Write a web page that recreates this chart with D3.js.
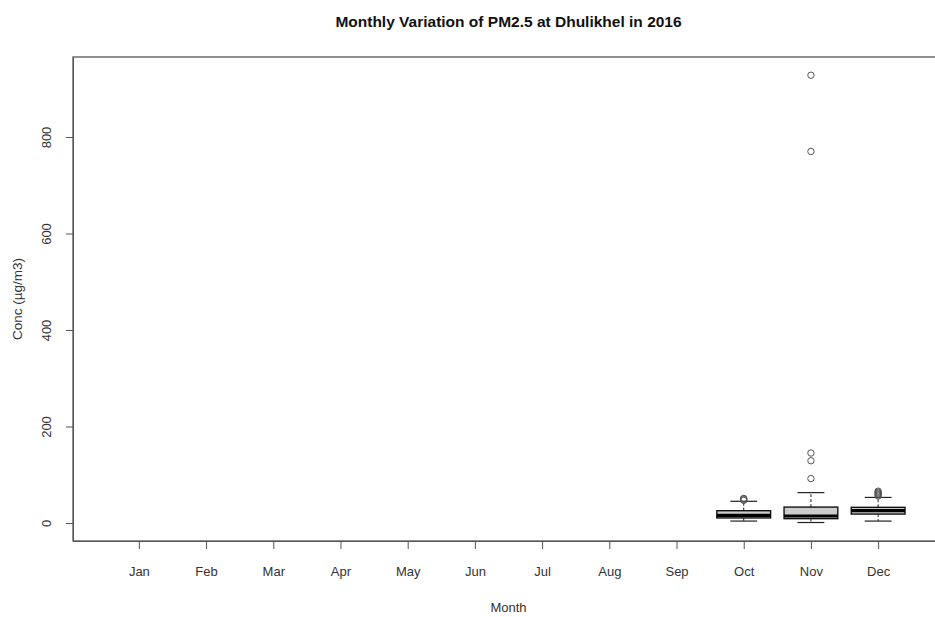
<!DOCTYPE html>
<html>
<head>
<meta charset="utf-8">
<script src="https://cdn.jsdelivr.net/npm/d3@7"></script>
<style>
  body { margin: 0; background: #fff; }
  svg { display: block; font-family: "Liberation Sans", Arial, sans-serif; }
</style>
</head>
<body>
<svg id="chart" width="935" height="617"></svg>
<script>
// ---- Data ----
const months = ["Jan","Feb","Mar","Apr","May","Jun","Jul","Aug","Sep","Oct","Nov","Dec"];
// Only Oct, Nov, Dec have data (null = no observations)
const whiskerLow  = [null,null,null,null,null,null,null,null,null, 4, 1, 4];
const q1          = [null,null,null,null,null,null,null,null,null, 10.5, 9, 18.5];
const medians     = [null,null,null,null,null,null,null,null,null, 16, 14.5, 25.5];
const q3          = [null,null,null,null,null,null,null,null,null, 25.5, 33, 32.5];
const whiskerHigh = [null,null,null,null,null,null,null,null,null, 45, 63, 53];
const outliers    = [[],[],[],[],[],[],[],[],[],
                     [47, 48, 50, 51],
                     [92, 129, 145, 770, 928],
                     [56, 58, 60, 62, 64, 66]];
const yTicks = [0, 200, 400, 600, 800];
const title = "Monthly Variation of PM2.5 at Dhulikhel in 2016";
const xLabel = "Month";
const yLabel = "Conc (\u00b5g/m3)";

// ---- Layout ----
const svg = d3.select("#chart");
const mLeft = 73, mRight = 944, mTop = 57, mBottom = 541;
const ink = "#333";

const x = d3.scaleLinear().domain([0.02, 12.98]).range([mLeft, mRight]);
const y = d3.scaleLinear().domain([-37.3, 965.8]).range([mBottom, mTop]);

// frame
svg.append("rect")
  .attr("x", mLeft).attr("y", mTop)
  .attr("width", mRight - mLeft).attr("height", mBottom - mTop)
  .attr("fill", "none").attr("stroke", "#555").attr("stroke-width", 1.3);

// y axis
const yAxis = svg.append("g")
  .attr("transform", `translate(${mLeft},0)`)
  .call(d3.axisLeft(y).tickValues(yTicks).tickSize(7).tickSizeOuter(0).tickFormat(d3.format("d")));
yAxis.select(".domain").attr("stroke", "#555");
yAxis.selectAll(".tick line").attr("stroke", "#555");
yAxis.selectAll(".tick text")
  .attr("fill", ink).attr("font-size", 13)
  .attr("transform", "rotate(-90)")
  .attr("x", 0).attr("y", -27)
  .attr("dy", "0.35em")
  .attr("text-anchor", "middle");

// x axis
const xAxis = svg.append("g")
  .attr("transform", `translate(0,${mBottom})`)
  .call(d3.axisBottom(x).tickValues(d3.range(1, 13)).tickSize(8).tickSizeOuter(0)
        .tickFormat(i => months[i - 1]));
xAxis.select(".domain").attr("stroke", "#555");
xAxis.selectAll(".tick line").attr("stroke", "#555");
xAxis.selectAll(".tick text").attr("fill", ink).attr("font-size", 13).attr("y", 26);

// boxes
const unit = x(2) - x(1);
const bw = 0.8 * unit;
const g = svg.append("g");
months.forEach((m, i) => {
  if (medians[i] === null) return;
  const cx = x(i + 1);
  // whiskers (dashed)
  g.append("line").attr("x1", cx).attr("x2", cx)
    .attr("y1", y(q3[i])).attr("y2", y(whiskerHigh[i]))
    .attr("stroke", "#222").attr("stroke-dasharray", "3,2");
  g.append("line").attr("x1", cx).attr("x2", cx)
    .attr("y1", y(q1[i])).attr("y2", y(whiskerLow[i]))
    .attr("stroke", "#222").attr("stroke-dasharray", "3,2");
  // staples
  [whiskerHigh[i], whiskerLow[i]].forEach(v => {
    g.append("line").attr("x1", cx - bw / 4).attr("x2", cx + bw / 4)
      .attr("y1", y(v)).attr("y2", y(v)).attr("stroke", "#222").attr("stroke-width", 1.2);
  });
  // box
  g.append("rect")
    .attr("x", cx - bw / 2).attr("width", bw)
    .attr("y", y(q3[i])).attr("height", y(q1[i]) - y(q3[i]))
    .attr("fill", "#ccc").attr("stroke", "#111").attr("stroke-width", 1.4);
  // median
  g.append("line").attr("x1", cx - bw / 2).attr("x2", cx + bw / 2)
    .attr("y1", y(medians[i])).attr("y2", y(medians[i]))
    .attr("stroke", "#000").attr("stroke-width", 3.2);
  // outliers
  outliers[i].forEach(v => {
    g.append("circle").attr("cx", cx).attr("cy", y(v)).attr("r", 3.2)
      .attr("fill", "none").attr("stroke", "#555").attr("stroke-width", 1);
  });
});

// titles
svg.append("text").attr("x", (mLeft + mRight) / 2).attr("y", 27)
  .attr("text-anchor", "middle").attr("font-size", 15.5).attr("font-weight", "bold")
  .attr("fill", "#111").text(title);
svg.append("text").attr("x", (mLeft + mRight) / 2).attr("y", 612)
  .attr("text-anchor", "middle").attr("font-size", 13).attr("fill", ink).text(xLabel);
svg.append("text").attr("transform", `translate(22,${(mTop + mBottom) / 2}) rotate(-90)`)
  .attr("text-anchor", "middle").attr("font-size", 13.5).attr("fill", ink).text(yLabel);
</script>
</body>
</html>
